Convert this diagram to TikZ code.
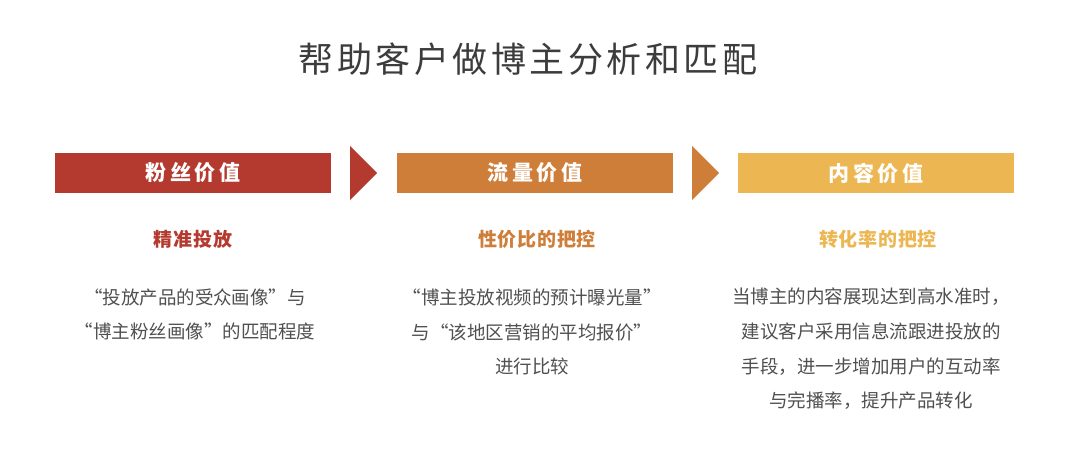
\documentclass[tikz,border=0pt]{standalone}
\usepackage{fontspec}
\setmainfont{Noto Sans CJK SC}
\definecolor{cred}{HTML}{B4392F}
\definecolor{corange}{HTML}{CE7E38}
\definecolor{cyellow}{HTML}{ECB752}
\definecolor{ctitle}{HTML}{3C3C3C}
\definecolor{cbody}{HTML}{505050}
\begin{document}
\begin{tikzpicture}[x=1pt,y=-1pt,
  banner/.style={minimum width=276pt,minimum height=40pt,inner sep=0pt,
    text=white,font=\fontsize{21}{21}\selectfont\bfseries\addfontfeatures{LetterSpace=16}},
  subhead/.style={inner sep=0pt,font=\fontsize{19}{19}\selectfont\bfseries\addfontfeatures{LetterSpace=4}},
  body/.style={inner sep=0pt,align=center,text=cbody,font=\fontsize{18.5}{34.7}\selectfont}]
\useasboundingbox (0,0) rectangle (1080,462);
\fill[white] (0,0) rectangle (1080,462);
\node[inner sep=0pt,text=ctitle,font=\fontsize{35}{35}\selectfont\addfontfeatures{LetterSpace=10}] (title) at (528,59) {帮助客户做博主分析和匹配};
% banners
\node[banner,fill=cred] (b1) at (193,173) {粉丝价值};
\node[banner,fill=corange] (b2) at (535,173) {流量价值};
\node[banner,fill=cyellow] (b3) at (876,173) {内容价值};
% chevrons
\fill[cred] (350,146) -- (377,173) -- (350,200) -- cycle;
\fill[corange] (692,146) -- (719,173) -- (692,200) -- cycle;
% subheads
\node[subhead,text=cred] (s1) at (193,239) {精准投放};
\node[subhead,text=corange] (s2) at (537,239) {性价比的把控};
\node[subhead,text=cyellow] (s3) at (878,239) {转化率的把控};
% body
\node[body] (t1) at (195,314.5) {“投放产品的受众画像”与\\“博主粉丝画像”的匹配程度};
\node[body] (t2) at (532,332) {“博主投放视频的预计曝光量”\\与“该地区营销的平均报价”\\进行比较};
\node[body] (t3) at (871,349) {当博主的内容展现达到高水准时，\\建议客户采用信息流跟进投放的\\手段，进一步增加用户的互动率\\与完播率，提升产品转化};
\end{tikzpicture}
\end{document}
